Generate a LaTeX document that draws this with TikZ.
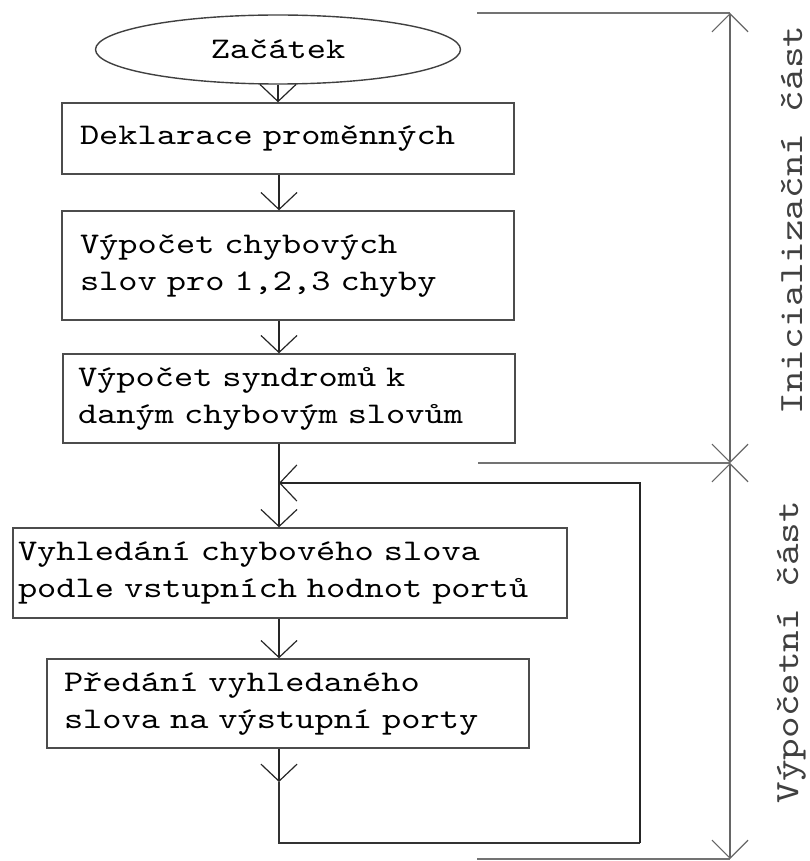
\documentclass[tikz,border=0pt]{standalone}
\usepackage{fontspec}
\usetikzlibrary{shapes.geometric, arrows.meta, calc}
\newfontfamily\psacirodina{lmmono10-regular.otf}[FakeStretch=1.22]
\newfontfamily\fazerodina{lmmono10-regular.otf}[FakeStretch=1.21]
\tikzset{
  % Flowchart blocks
  krok/.style={rectangle, draw=black!70, line width=1.4pt, align=left,
    font=\psacirodina\fontsize{30}{37}\selectfont, inner ysep=0pt},
  zacatek/.style={ellipse, draw=black!75, line width=1.4pt, inner sep=0pt,
    font=\psacirodina\fontsize{30}{37}\selectfont},
  sipka/.style={-{Straight Barb[length=17pt, width=36pt]}, line width=1.2pt, black!85},
  cara/.style={line width=1.2pt, black!80},
  % Phase axis on the right
  meze/.style={{Straight Barb[length=18pt, width=36pt]}-{Straight Barb[length=18pt, width=36pt]},
    line width=1.2pt, black!60},
  vynaska/.style={line width=1.2pt, black!55},
  faze/.style={rotate=90, font=\fazerodina\fontsize{34}{40}\selectfont, text=black!75}
}
\begin{document}
\begin{tikzpicture}[x=1pt, y=-1pt]
  \useasboundingbox (0,0) rectangle (810,861);

  % Initialization blocks
  \node[zacatek, minimum width=365pt, minimum height=69pt] (start) at (278,49.5) {Začátek};
  \node[krok, minimum height=71pt, text width=416pt, inner xsep=18pt] (dekl) at (288,138.5)
    {Deklarace proměnných};
  \node[krok, minimum height=109pt, text width=416pt, inner xsep=18pt] (chyb) at (288,265.5)
    {Výpočet chybových\\slov pro 1,2,3 chyby};
  \node[krok, minimum height=89pt, text width=422pt, inner xsep=15pt] (synd) at (289,398.5)
    {Výpočet syndromů k\\daným chybovým slovům};

  % Computation blocks (loop)
  \node[krok, minimum height=90pt, text width=544pt, inner xsep=5pt] (vyhl) at (290,573)
    {Vyhledání chybového slova\\podle vstupních hodnot portů};
  \node[krok, minimum height=89pt, text width=448pt, inner xsep=17pt] (pred) at (288,703.5)
    {Předání vyhledaného\\slova na výstupní porty};

  % Loop corners
  \coordinate (vstup) at (279,483);
  \coordinate (dolu) at (279,782);
  \coordinate (roh) at (640,843);

  % --- Flow ---
  \draw[sipka] (start.south) -- (start.south |- dekl.north);
  \draw[sipka] (dekl.south -| vstup) -- (chyb.north -| vstup);
  \draw[sipka] (chyb.south -| vstup) -- (synd.north -| vstup);
  \draw[sipka] (synd.south -| vstup) -- (vyhl.north -| vstup);
  \draw[sipka] (vyhl.south -| vstup) -- (pred.north -| vstup);
  % back to the lookup
  \draw[sipka] (pred.south -| vstup) -- (dolu);
  \draw[cara] (dolu) |- (roh);
  \draw[sipka] (roh) |- (vstup);

  % Phase axis
  \coordinate (t-horni) at (730,13);
  \coordinate (t-stred) at (730,463);
  \coordinate (t-dolni) at (730,859);
  \coordinate (v-horni) at (477,13);
  \coordinate (v-stred) at (478,463);
  \coordinate (v-dolni) at (477,859);
  \draw[vynaska] (v-horni) -- (t-horni);
  \draw[vynaska] (v-stred) -- (t-stred);
  \draw[vynaska] (v-dolni) -- (t-dolni);
  \draw[meze] (t-stred) -- (t-horni);
  \draw[meze] (t-stred) -- (t-dolni);

  \node[faze] (init) at (792,220) {Inicializační část};
  \node[faze] (vypo) at (792,652) {Výpočetní část};
\end{tikzpicture}
\end{document}
